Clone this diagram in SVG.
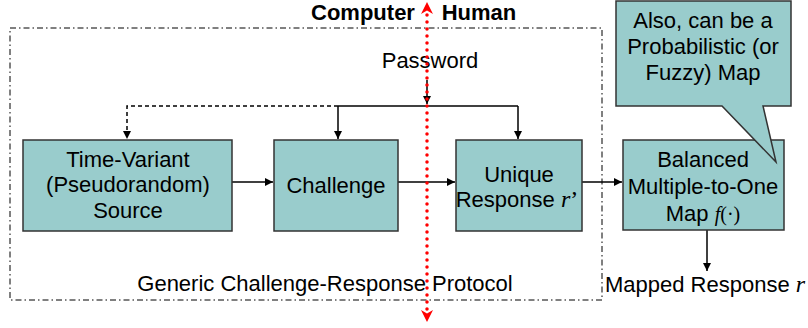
<svg xmlns="http://www.w3.org/2000/svg" width="808" height="328" viewBox="0 0 808 328">
<defs>
<style>
.box{fill:#99CCCC;stroke:#333333;stroke-width:1.5}
.t{font-family:"Liberation Sans",Arial,sans-serif;font-size:22px;fill:#000;text-anchor:middle}
.b{font-weight:bold}
.m{font-family:"Liberation Serif","Times New Roman",serif;font-style:italic}
.ln{stroke:#000;stroke-width:1.5;fill:none}
</style>
<marker id="ah" viewBox="0 0 10 10" refX="10" refY="5" markerWidth="8" markerHeight="8" markerUnits="userSpaceOnUse" orient="auto">
<path d="M0,0 L10,5 L0,10 z" fill="#000"/>
</marker>
<marker id="rh" viewBox="0 0 10 10" refX="10" refY="5" markerWidth="12" markerHeight="12" markerUnits="userSpaceOnUse" orient="auto">
<path d="M0,0 L10,5 L0,10 L3,5 z" fill="#ff0000"/>
</marker>
</defs>
<rect width="808" height="328" fill="#fff"/>
<g id="frame">
<rect x="10" y="28" width="592" height="272" fill="none" stroke="#000" stroke-width="1" stroke-dasharray="6 3 1.5 3"/>
</g>
<g id="labels">
<text class="t b" x="363" y="20">Computer</text>
<text class="t b" x="479" y="20">Human</text>
<text class="t" x="430" y="68">Password</text>
<text class="t" x="325" y="291">Generic Challenge-Response Protocol</text>
<text class="t" x="605" y="292" style="text-anchor:start">Mapped Response <tspan class="m" font-size="24">r</tspan></text>
</g>
<g id="connectors">
<path class="ln" d="M427,80 V104" marker-end="url(#ah)"/>
<path class="ln" d="M338,106 H518"/>
<path class="ln" d="M338,106 V139" marker-end="url(#ah)"/>
<path class="ln" d="M518,106 V139" marker-end="url(#ah)"/>
<path class="ln" d="M338,106 H127 V139" stroke-dasharray="4 3" marker-end="url(#ah)"/>
<path class="ln" d="M232,182 H273" marker-end="url(#ah)"/>
<path class="ln" d="M398,182 H455" marker-end="url(#ah)"/>
<path class="ln" d="M582,182 H622" marker-end="url(#ah)"/>
<path class="ln" d="M707,230 V271" marker-end="url(#ah)"/>
</g>
<g id="source">
<rect class="box" x="23" y="140" width="209" height="91"/>
<text class="t" x="128" y="167">Time-Variant</text>
<text class="t" x="128" y="192">(Pseudorandom)</text>
<text class="t" x="128" y="218">Source</text>
</g>
<g id="challenge">
<rect class="box" x="274" y="140" width="124" height="91"/>
<text class="t" x="336" y="193">Challenge</text>
</g>
<g id="unique">
<rect class="box" x="456" y="140" width="126" height="91"/>
<text class="t" x="519" y="182">Unique</text>
<text class="t" x="517" y="207">Response <tspan class="m" font-size="24">r</tspan><tspan font-family="Liberation Serif" font-size="24">’</tspan></text>
</g>
<g id="map">
<rect class="box" x="623" y="140" width="161" height="90"/>
<text class="t" x="703" y="167">Balanced</text>
<text class="t" x="703" y="194">Multiple-to-One</text>
<text class="t" x="703" y="221">Map <tspan font-family="Liberation Serif" font-size="20"><tspan font-style="italic">f</tspan>(·)</tspan></text>
</g>
<g id="callout">
<path class="box" d="M616,1 H791 V106 H763 L776,162 L722,106 H616 Z"/>
<text class="t" x="703" y="28">Also, can be a</text>
<text class="t" x="703" y="54">Probabilistic (or</text>
<text class="t" x="703" y="80">Fuzzy) Map</text>
</g>
<g id="divider">
<path d="M427,8 V316" stroke="#ff0000" stroke-width="3.5" stroke-linecap="round" stroke-dasharray="0 7" fill="none"/>
<path d="M427,14 V2" stroke="none" fill="none" marker-end="url(#rh)"/>
<path d="M427,310 V322" stroke="none" fill="none" marker-end="url(#rh)"/>
</g>
</svg>
